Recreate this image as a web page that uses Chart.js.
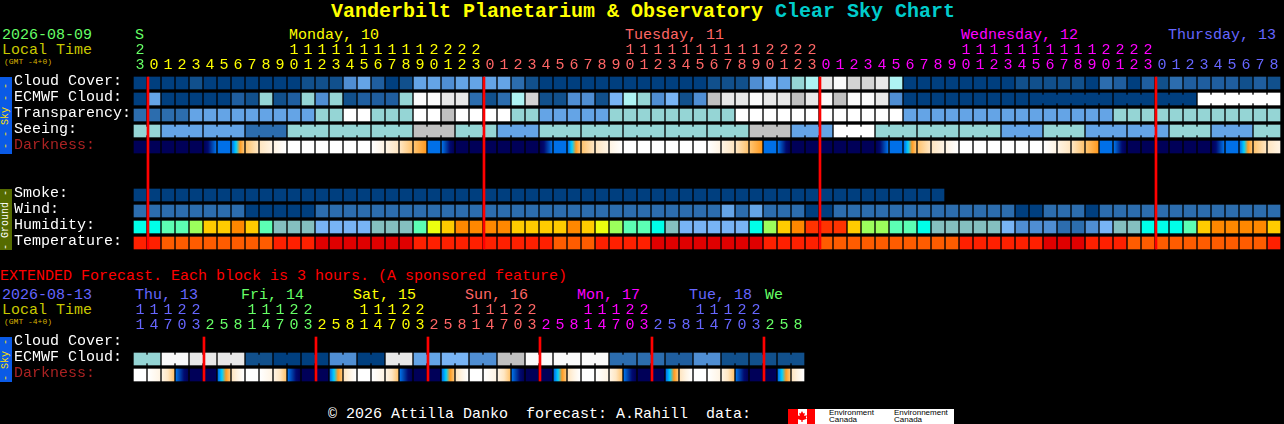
<!DOCTYPE html>
<html lang="en">
<head>
<meta charset="UTF-8">
<title>Vanderbilt Planetarium & Observatory Clear Sky Chart</title>
<script src="https://cdn.jsdelivr.net/npm/chart.js@4"></script>
<style>
  html, body { margin: 0; background: #000; overflow: hidden; }
  body { position: relative; width: 1284px; height: 424px; font: 15px/16px "Liberation Mono", monospace; color: #fff; }
  canvas { position: absolute; left: 0; }
  .t { position: absolute; white-space: pre; }
  .title { font: bold 20px/24px "Liberation Mono", monospace; }
  .gmt { font-size: 8px; line-height: 8px; color: #d8b000; }
  .side { position: absolute; left: 0; width: 12px; writing-mode: vertical-rl; transform: rotate(180deg); text-align: center; white-space: pre; font-size: 10px; line-height: 12px; }
  .sky { background: #0a5ae6; color: #ffe000; }
  .ground { background: #556b00; color: #fff; }
  .logo { position: absolute; left: 788px; top: 409px; width: 166px; height: 15px; background: #fff; color: #000; overflow: hidden; font: 8px/7px "Liberation Sans", sans-serif; }
  .logo i { position: absolute; top: 0; height: 15px; background: #f00; }
  .logo span { position: absolute; top: 0; }
  .leaf { position: absolute; left: 9px; top: 2px; width: 10px; height: 11px; background: #f00;
    clip-path: polygon(50% 0,63% 22%,78% 16%,72% 45%,100% 38%,88% 62%,100% 70%,56% 84%,56% 100%,44% 100%,44% 84%,0 70%,12% 62%,0 38%,28% 45%,22% 16%,37% 22%); }
</style>
</head>
<body>
  <div class="t title" style="left:331px;top:0;color:#ffff00">Vanderbilt Planetarium &amp; Observatory</div>
  <div class="t title" style="left:775px;top:0;color:#00cccc">Clear Sky Chart</div>

  <div class="t" style="left:2px;top:28px;color:#66ff66">2026-08-09</div>
  <div class="t" style="left:2px;top:43px;color:#c8c800">Local Time</div>
  <div class="t gmt" style="left:4px;top:58px">(GMT -4+0)</div>
  <div class="t" style="left:135px;top:28px;color:#66ff66">S</div>
  <div class="t" style="left:289px;top:28px;color:#ffff00">Monday, 10</div>
  <div class="t" style="left:625px;top:28px;color:#ff6666">Tuesday, 11</div>
  <div class="t" style="left:961px;top:28px;color:#ff00ff">Wednesday, 12</div>
  <div class="t" style="left:1168px;top:28px;color:#6666ff">Thursday, 13</div>

  <div class="side sky" style="top:77px;height:77px">- - Sky - -</div>
  <div class="side ground" style="top:189px;height:61px">- Ground -</div>

  <div class="t" style="left:0;top:269px;color:#ff0000">EXTENDED Forecast. Each block is 3 hours. (A sponsored feature)</div>
  <div class="t" style="left:2px;top:288px;color:#6666ff">2026-08-13</div>
  <div class="t" style="left:2px;top:303px;color:#c8c800">Local Time</div>
  <div class="t gmt" style="left:4px;top:318px">(GMT -4+0)</div>
  <div class="t" style="left:135px;top:288px;color:#6666ff">Thu, 13</div>
  <div class="t" style="left:241px;top:288px;color:#66ff66">Fri, 14</div>
  <div class="t" style="left:353px;top:288px;color:#ffff00">Sat, 15</div>
  <div class="t" style="left:465px;top:288px;color:#ff6666">Sun, 16</div>
  <div class="t" style="left:577px;top:288px;color:#ff00ff">Mon, 17</div>
  <div class="t" style="left:689px;top:288px;color:#6666ff">Tue, 18</div>
  <div class="t" style="left:765px;top:288px;color:#66ff66">We</div>
  <div class="side sky" style="top:337px;height:45px">- Sky -</div>

  <div class="t" style="left:328px;top:407px">© 2026 Attilla Danko  forecast: A.Rahill  data:</div>
  <div class="logo">
    <i style="left:0;width:10px"></i><i style="left:19px;width:8px"></i><div class="leaf"></div>
    <span style="left:41px">Environment<br>Canada</span>
    <span style="left:106px">Environnement<br>Canada</span>
  </div>

  <canvas id="mainChart" width="1284" height="260" style="top:0"></canvas>
  <canvas id="extChart" width="1284" height="164" style="top:260px"></canvas>

<script>
// palette levels used by the sky rows (0 = clear dark blue ... 13 = white)
const skyColors = ['#003f7f','#11508c','#1f5e9f','#2c6dae','#4f8ed3','#64a4e6','#78b4f5','#95d5d5','#aef3f3','#c0c0c0','#d4d4d4','#e8e8e8','#fafafa','#ffffff'];
const humidityColors = ['#2c6dae','#4f8ed3','#78b4f5','#84c0c0','#00ffe8','#5cffb4','#9cff5c','#ecff0f','#ffcc00','#ff8800','#ff3300'];
const temperatureColors = ['#e00000','#ff2000','#ff5c00'];
// darkness ramp, 0 = daylight ... 9 = full dark
const darkColors = ['#ffffff','#fff4e4','#ffe6c2','#ffc470','#ff9a20','#00d0ff','#0070e8','#0040a8','#000a70','#000058'];

const rowLabels = ['Cloud Cover:','ECMWF Cloud:','Transparency:','Seeing:','Darkness:','','','Smoke:','Wind:','Humidity:','Temperature:'];
const hourTens = ['2','','','','','','','','','','',
  '1','1','1','1','1','1','1','1','1','1','2','2','2','2','','','','','','','','','','',
  '1','1','1','1','1','1','1','1','1','1','2','2','2','2','','','','','','','','','','',
  '1','1','1','1','1','1','1','1','1','1','2','2','2','2','','','','','','','','',''];
const hourUnits = ['3','0','1','2','3','4','5','6','7','8','9','0','1','2','3','4','5','6','7','8','9','0','1','2','3',
  '0','1','2','3','4','5','6','7','8','9','0','1','2','3','4','5','6','7','8','9','0','1','2','3',
  '0','1','2','3','4','5','6','7','8','9','0','1','2','3','4','5','6','7','8','9','0','1','2','3',
  '0','1','2','3','4','5','6','7','8'];

const cloudCover = [0,0,0,0,1,0,0,0,0,0,0,0,1,1,1,4,5,2,0,1,5,5,4,5,5,5,5,3,1,0,0,0,0,0,0,0,0,0,0,0,0,1,1,1,4,6,5,7,8,11,12,10,10,11,8,0,0,0,0,0,0,0,0,1,1,1,1,1,0,3,2,0,2,1,3,2,2,2,2,1,2,1];
const ecmwfCloud = [0,5,0,0,0,0,0,2,1,7,1,2,7,4,7,1,2,2,2,7,12,12,11,11,3,1,3,8,10,1,1,4,4,1,6,8,7,4,6,1,4,9,11,11,12,11,11,9,11,12,9,12,12,11,4,0,0,0,0,0,0,0,0,0,0,0,0,0,0,0,0,0,0,0,0,0,13,13,13,13,13,13];
const ecmwfGroups = [[64,69],[70,72],[73,75],[76,81]];
const transparency = [3,3,3,3,5,5,5,5,5,5,5,5,5,7,7,13,13,7,7,7,13,13,9,13,13,13,13,7,7,5,5,5,5,5,7,7,7,7,7,7,7,7,7,13,13,13,13,13,13,13,13,13,13,13,13,5,5,5,5,5,5,5,5,5,5,5,5,5,5,5,7,7,7,7,7,7,7,7,7,7,7,7];
const seeing = [7,7,5,5,5,5,5,5,3,3,3,7,7,7,7,7,7,7,7,7,9,9,9,7,7,7,5,5,5,7,7,7,7,7,7,7,7,7,7,7,7,7,7,7,9,9,9,5,5,5,13,13,13,7,7,7,7,7,7,7,7,7,5,5,5,7,7,7,5,5,5,5,5,5,7,7,7,5,5,5,7,7];
const seeingGroups = [[0,1],[2,4],[5,7],[8,10],[11,13],[14,16],[17,19],[20,22],[23,25],[26,28],[29,31],[32,34],[35,37],[38,40],[41,43],[44,46],[47,49],[50,52],[53,55],[56,58],[59,61],[62,64],[65,67],[68,70],[71,73],[74,76],[77,79],[80,81]];
const darkFrom = [9,9,9,9,9,
  9,6,6,3,2,1,0,0,0,0,0,0,0,1,2,3,6,6,9,9,9,9,9,9,
  9,6,6,3,2,1,0,0,0,0,0,0,0,1,2,3,6,6,9,9,9,9,9,9,
  9,6,6,3,2,1,0,0,0,0,0,0,0,1,2,3,6,6,9,9,9,9,9,9,
  9,6,6,3,2];
const darkTo = [9,9,9,9,9,
  6,6,3,2,1,0,0,0,0,0,0,0,1,2,3,4,6,9,9,9,9,9,9,9,
  6,6,3,2,1,0,0,0,0,0,0,0,1,2,3,4,6,9,9,9,9,9,9,9,
  6,6,3,2,1,0,0,0,0,0,0,0,1,2,3,4,6,9,9,9,9,9,9,9,
  6,6,3,2,1];
const smoke = [0,0,0,0,0,0,0,0,0,0,0,0,0,0,0,0,0,0,0,0,0,0,0,0,0,0,0,0,0,0,0,0,0,0,0,0,0,0,0,0,0,0,0,0,0,0,0,0,0,0,0,0,0,0,0,0,0,0];
const wind = [3,3,3,3,3,3,3,3,0,0,0,0,0,3,3,3,3,3,3,3,3,3,3,3,3,3,3,3,3,3,3,3,3,3,3,3,3,3,3,3,3,3,5,3,5,3,3,3,0,0,3,3,3,3,3,3,3,3,3,3,3,3,3,0,0,3,3,3,0,3,3,3,3,3,3,3,3,3,3,3,3,3];
const humidity = [4,4,5,5,6,8,8,9,8,5,3,3,3,2,2,2,2,3,3,3,5,7,8,9,9,9,9,8,8,8,8,9,8,7,6,5,5,4,3,2,2,2,2,2,4,6,8,9,10,10,10,8,6,6,5,5,4,3,3,3,3,3,2,1,1,1,0,0,1,2,3,3,4,4,4,5,8,9,9,9,9,8];
const temperature = [1,1,2,2,2,2,2,2,2,2,1,1,1,0,0,0,0,0,0,0,1,1,1,1,1,1,1,1,1,1,2,2,2,1,1,1,1,0,0,0,0,0,0,0,0,1,1,1,1,2,2,2,2,2,2,2,2,2,2,1,1,1,1,1,1,0,0,0,1,1,1,2,2,2,2,2,2,2,2,2,2,1];
const midnightCols = [0,24,48,72];
const mainDayStarts = [0,1,25,49,73];
const mainDayColors = ['#66ff66','#ffff00','#ff6666','#ff00ff','#6666ff'];

// extended forecast, one block = 3 hours
const extRowLabels = ['Cloud Cover:','ECMWF Cloud:','Darkness:'];
const extTens = ['1','1','1','2','2','','','','1','1','1','2','2','','','','1','1','1','2','2','','','','1','1','1','2','2','','','','1','1','1','2','2','','','','1','1','1','2','2','','',''];
const extUnits = ['1','4','7','0','3','2','5','8','1','4','7','0','3','2','5','8','1','4','7','0','3','2','5','8','1','4','7','0','3','2','5','8','1','4','7','0','3','2','5','8','1','4','7','0','3','2','5','8'];
const extEcmwf = [7,7,12,12,11,11,11,11,1,1,0,0,0,0,4,4,0,0,11,11,5,5,6,6,4,4,9,9,12,12,12,12,12,12,3,3,3,3,2,2,4,4,1,1,1,1,1,1];
const extGroups = [[0,1],[2,3],[4,5],[6,7],[8,9],[10,11],[12,13],[14,15],[16,17],[18,19],[20,21],[22,23],[24,25],[26,27],[28,29],[30,31],[32,33],[34,35],[36,37],[38,39],[40,41],[42,43],[44,45],[46,47]];
const extDarkFrom = [0,0,1,6,9,9,6,2,0,0,1,6,9,9,6,2,0,0,1,6,9,9,6,2,0,0,1,6,9,9,6,2,0,0,1,6,9,9,6,2,0,0,1,6,9,9,6,2];
const extDarkTo =   [0,1,3,9,9,9,3,0,0,1,3,9,9,9,3,0,0,1,3,9,9,9,3,0,0,1,3,9,9,9,3,0,0,1,3,9,9,9,3,0,0,1,3,9,9,9,3,0];
const extMidnightCols = [4,12,20,28,36,44];
const extDayStarts = [0,5,13,21,29,37,45];
const extDayColors = ['#6666ff','#66ff66','#ffff00','#ff6666','#ff00ff','#6666ff','#66ff66'];

const MONO = '"Liberation Mono", monospace';

// one row of 12px cells
function cellRow(row, values, palette) {
  return {
    data: values.map((v, i) => ({ x: i, y: [row - 0.375, row + 0.375] })),
    backgroundColor: values.map(v => palette[v]),
    barThickness: 12, grouped: false, order: 3
  };
}

// the little necks joining blocks of the same forecast period
function linkRow(row, values, groups, palette) {
  const cols = [];
  groups.forEach(g => { for (let i = g[0]; i < g[1]; i++) cols.push(i); });
  return {
    data: cols.map(i => ({ x: i + 0.5, y: [row - 0.25, row + 0.25] })),
    backgroundColor: cols.map(i => palette[values[i]]),
    barThickness: 2, grouped: false, order: 2
  };
}

function darkRow(row, from, to) {
  return {
    data: from.map((v, i) => ({ x: i, y: [row - 0.375, row + 0.375] })),
    backgroundColor: c => {
      const i = c.dataIndex, a = from[i], b = to[i];
      if (a === b) return darkColors[a];
      const px = c.chart.scales.x.getPixelForValue(i);
      const g = c.chart.ctx.createLinearGradient(px - 6, 0, px + 6, 0);
      const n = Math.abs(b - a);
      for (let k = 0; k <= n; k++) g.addColorStop(k / n, darkColors[a + k * Math.sign(b - a)]);
      return g;
    },
    barThickness: 12, grouped: false, order: 3
  };
}

function midnightLines(cols, lastRow) {
  return {
    data: cols.map(c => ({ x: c + 0.57, y: [-0.375, lastRow + 0.375] })),
    backgroundColor: '#ff0000', barThickness: 2, grouped: false, order: 1
  };
}

function colorFor(i, starts, colors) {
  let k = 0;
  starts.forEach((s, j) => { if (i >= s) k = j; });
  return colors[k];
}

function makeChart(id, labels, tens, units, starts, colors, datasets, padRight, padBottom) {
  const xCols = units.map((u, i) => i);
  const yRows = labels.map((l, i) => i);
  new Chart(document.getElementById(id), {
    type: 'bar',
    data: { datasets: datasets },
    options: {
      responsive: false,
      animation: false,
      layout: { padding: { left: 14, right: padRight, top: 35, bottom: padBottom } },
      plugins: { legend: { display: false }, tooltip: { enabled: false } },
      scales: {
        x: {
          type: 'linear', position: 'top', min: -0.5, max: units.length - 0.5, offset: false,
          grid: { display: false, drawTicks: false }, border: { display: false },
          afterBuildTicks: s => { s.ticks = xCols.map(v => ({ value: v })); },
          // tick labels get clipped to the axis box, so it has to hold both lines
          afterFit: s => { s.height = 40; },
          ticks: {
            autoSkip: false, maxRotation: 0, padding: 2,
            font: { family: MONO, size: 15, lineHeight: 1 },
            color: c => colorFor(c.index, starts, colors),
            callback: (v, i) => [tens[i], units[i]]
          }
        },
        y: {
          type: 'linear', reverse: true, min: -0.5, max: labels.length - 0.5,
          grid: { display: false, drawTicks: false }, border: { display: false },
          afterBuildTicks: s => { s.ticks = yRows.map(v => ({ value: v })); },
          afterFit: s => { s.width = 119; },
          ticks: {
            autoSkip: false, crossAlign: 'far', padding: 0, labelOffset: -2,
            font: { family: MONO, size: 15 },
            color: c => labels[c.index] === 'Darkness:' ? '#aa2222' : '#ffffff',
            callback: (v, i) => labels[i]
          }
        }
      }
    }
  });
}

makeChart('mainChart', rowLabels, hourTens, hourUnits, mainDayStarts, mainDayColors, [
  midnightLines(midnightCols, 10),
  cellRow(0, cloudCover, skyColors),
  cellRow(1, ecmwfCloud, skyColors),
  linkRow(1, ecmwfCloud, ecmwfGroups, skyColors),
  cellRow(2, transparency, skyColors),
  cellRow(3, seeing, skyColors),
  linkRow(3, seeing, seeingGroups, skyColors),
  darkRow(4, darkFrom, darkTo),
  cellRow(7, smoke, skyColors),
  cellRow(8, wind, skyColors),
  cellRow(9, humidity, humidityColors),
  cellRow(10, temperature, temperatureColors)
], 3, 9);

makeChart('extChart', extRowLabels, extTens, extUnits, extDayStarts, extDayColors, [
  midnightLines(extMidnightCols, 2),
  cellRow(1, extEcmwf, skyColors),
  linkRow(1, extEcmwf, extGroups, skyColors),
  darkRow(2, extDarkFrom, extDarkTo)
], 479, 41);
</script>
</body>
</html>
